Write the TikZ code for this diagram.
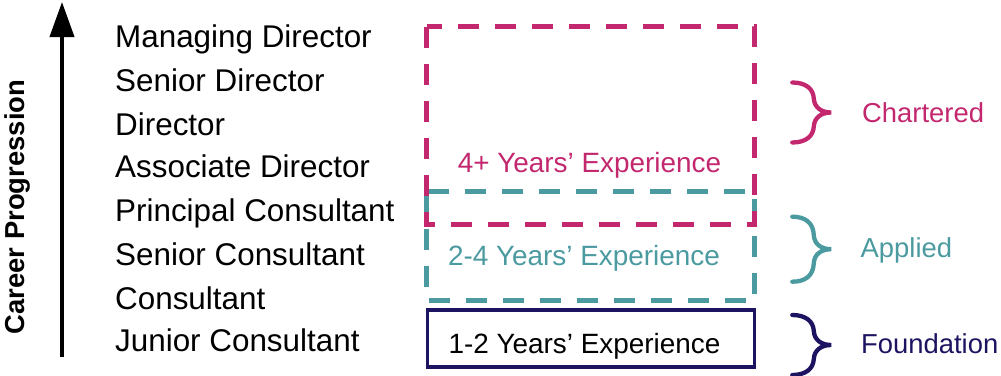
\documentclass[tikz,border=0pt]{standalone}
\usepackage{fontspec}
\setmainfont{Liberation Sans}
\usetikzlibrary{arrows.meta}

\definecolor{charterpink}{RGB}{195,40,111}
\definecolor{appliedteal}{RGB}{74,154,160}
\definecolor{foundnavy}{RGB}{29,20,97}

\tikzset{
  rolelabel/.style={anchor=base west, inner sep=0pt,
    font=\fontsize{31.4}{31.4}\selectfont, text=black},
  bandtext/.style={anchor=base, inner sep=0pt,
    font=\fontsize{27.9}{27.9}\selectfont},
  tierlabel/.style={anchor=base west, inner sep=0pt,
    font=\fontsize{27.4}{27.4}\selectfont},
  axislabel/.style={anchor=base, inner sep=0pt, rotate=90,
    font=\bfseries\fontsize{27.4}{27.4}\selectfont},
  axisarrow/.style={line width=4pt, -{Triangle[length=35pt,width=24pt]}},
  dashedband/.style={line width=4.7pt, dash pattern=on 21pt off 16pt},
  solidband/.style={line width=3.6pt},
  curlybrace/.pic={
    \draw[line width=4.3pt, line cap=round, pic actions]
      (0,-#1) .. controls (13,-#1) and (21,-#1+6) .. (21.5,-14)
              .. controls (22,-5) and (29,0) .. (39,0)
              .. controls (29,0) and (22,5) .. (21.5,14)
              .. controls (21,#1-6) and (13,#1) .. (0,#1);
  }
}

\begin{document}
\begin{tikzpicture}[x=1pt, y=-1pt]
  \useasboundingbox (0,0) rectangle (1001,375);

  % vertical axis
  \coordinate (axisbottom) at (62,357);
  \coordinate (axistop) at (62,2);
  \draw[axisarrow] (axisbottom) -- (axistop);
  \node[axislabel] (axistitle) at (24,207) {Career Progression};

  % job titles, bottom of the ladder last
  \node[rolelabel] (md)   at (115,47.3)  {Managing Director};
  \node[rolelabel] (sd)   at (115,91)    {Senior Director};
  \node[rolelabel] (dir)  at (115,135)   {Director};
  \node[rolelabel] (ad)   at (115,177.3) {Associate Director};
  \node[rolelabel] (pc)   at (115,221)   {Principal Consultant};
  \node[rolelabel] (sc)   at (115,265)   {Senior Consultant};
  \node[rolelabel] (con)  at (115,309.3) {Consultant};
  \node[rolelabel] (jc)   at (115,351.7) {Junior Consultant};

  % experience bands
  \coordinate (appliedTL) at (426.7,191.7);
  \coordinate (appliedBR) at (754.5,300.7);
  \draw[dashedband, appliedteal] (appliedTL) rectangle (appliedBR);

  \coordinate (charterTL) at (426.7,26.7);
  \coordinate (charterBR) at (754.5,224.3);
  \draw[dashedband, charterpink] (charterTL) rectangle (charterBR);

  \coordinate (foundTL) at (427.5,309.7);
  \coordinate (foundBR) at (754.5,367);
  \draw[solidband, foundnavy] (foundTL) rectangle (foundBR);

  \node[bandtext, text=charterpink] (charterexp) at (589.5,172) {4+ Years’ Experience};
  \node[bandtext, text=appliedteal] (appliedexp) at (584,265) {2-4 Years’ Experience};
  \node[bandtext, text=black]       (foundexp)   at (584.5,353.3) {1-2 Years’ Experience};

  % tier braces and names
  \pic[charterpink] at (792.3,112.5) {curlybrace=30};
  \pic[appliedteal] at (792.3,249.2) {curlybrace=32.5};
  \pic[foundnavy]   at (792.3,345)   {curlybrace=30};

  \node[tierlabel, text=charterpink] (chartered)  at (862,122.3) {Chartered};
  \node[tierlabel, text=appliedteal] (applied)    at (860.5,257) {Applied};
  \node[tierlabel, text=foundnavy]   (foundation) at (861,353.3) {Foundation};
\end{tikzpicture}
\end{document}
